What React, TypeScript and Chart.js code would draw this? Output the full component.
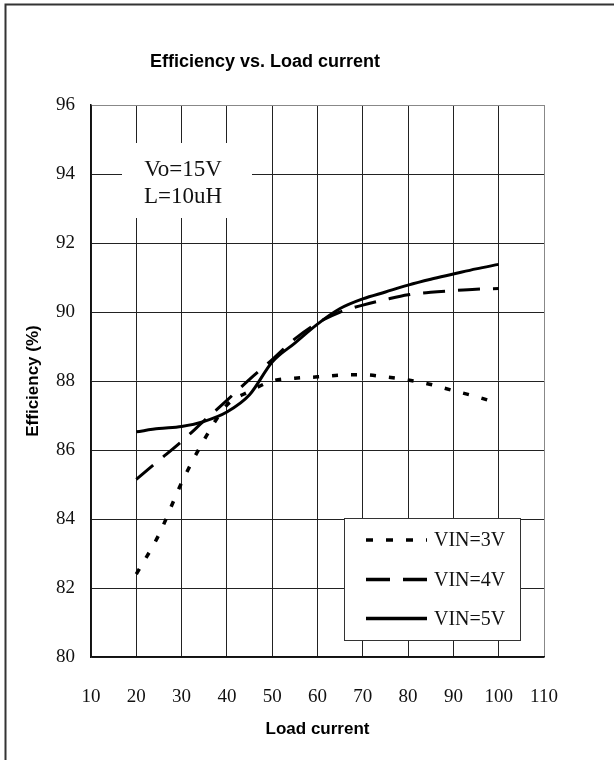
import React, { useEffect, useRef } from 'react';
import { Chart, registerables } from 'chart.js';

Chart.register(...registerables);

// ---- data ----
const loadCurrent = [20, 25, 30, 35, 40, 45, 50, 55, 60, 65, 70, 75, 80, 85, 90, 95, 100];
const eff3V = [82.4, 83.55, 85.05, 86.3, 87.3, 87.7, 88.0, 88.08, 88.12, 88.17, 88.18, 88.12, 88.03, 87.9, 87.72, 87.55, 87.35];
const eff4V = [85.15, 85.7, 86.25, 86.85, 87.44, 88.05, 88.62, 89.22, 89.68, 90.0, 90.2, 90.36, 90.5, 90.57, 90.62, 90.66, 90.68];
const eff5V = [86.53, 86.62, 86.68, 86.83, 87.1, 87.6, 88.55, 89.1, 89.65, 90.1, 90.38, 90.58, 90.78, 90.95, 91.1, 91.25, 91.38];
const seriesLabels = ['VIN=3V', 'VIN=4V', 'VIN=5V'];
const xMin = 10;
const xMax = 110;
const xStep = 10;
const yMin = 80;
const yMax = 96;
const yStep = 2;
const chartTitle = 'Efficiency vs. Load current';
const xTitle = 'Load current';
const yTitle = 'Efficiency (%)';
const noteLines = ['Vo=15V', 'L=10uH'];

const SERIF = '"Liberation Serif", "Times New Roman", serif';
const SANS = '"Liberation Sans", Arial, sans-serif';

const toPoints = (ys: number[]) => loadCurrent.map((x, i) => ({ x, y: ys[i] }));

const framePlugin = {
  id: 'frameTitle',
  beforeDraw(chart: any) {
    const { ctx } = chart;
    ctx.save();
    ctx.strokeStyle = '#333';
    ctx.lineWidth = 2;
    ctx.beginPath();
    ctx.moveTo(5.5, 900);
    ctx.lineTo(5.5, 4.5);
    ctx.lineTo(900, 4.5);
    ctx.stroke();
    ctx.font = 'bold 18px ' + SANS;
    ctx.fillStyle = '#000';
    ctx.textAlign = 'center';
    ctx.textBaseline = 'middle';
    ctx.fillText(chartTitle, 265, 62);
    ctx.restore();
  },
};

const notePlugin = {
  id: 'note',
  beforeDatasetsDraw(chart: any) {
    const { ctx } = chart;
    ctx.save();
    ctx.fillStyle = '#fff';
    ctx.fillRect(122, 143, 130, 75);
    ctx.font = '23px ' + SERIF;
    ctx.fillStyle = '#111';
    ctx.textAlign = 'center';
    ctx.textBaseline = 'middle';
    ctx.fillText(noteLines[0], 183, 170);
    ctx.fillText(noteLines[1], 183, 197);
    ctx.restore();
  },
};

const legendPlugin = {
  id: 'innerLegend',
  afterDatasetsDraw(chart: any) {
    const { ctx } = chart;
    ctx.save();
    ctx.fillStyle = '#fff';
    ctx.fillRect(344, 518, 177, 123);
    ctx.strokeStyle = '#333';
    ctx.lineWidth = 1;
    ctx.strokeRect(344.5, 518.5, 176, 122);
    const rows = [540, 579.5, 618.5];
    chart.data.datasets.forEach((ds: any, i: number) => {
      const y = rows[i];
      ctx.save();
      ctx.strokeStyle = ds.borderColor;
      ctx.lineWidth = 3.5;
      ctx.setLineDash(ds.legendDash || ds.borderDash || []);
      ctx.beginPath();
      ctx.moveTo(366, y);
      ctx.lineTo(427, y);
      ctx.stroke();
      ctx.restore();
      ctx.font = '20px ' + SERIF;
      ctx.fillStyle = '#111';
      ctx.textAlign = 'left';
      ctx.textBaseline = 'middle';
      ctx.fillText(ds.label, 434, y + 1);
    });
    ctx.restore();
  },
};

export default function App() {
  const ref = useRef<HTMLCanvasElement | null>(null);

  useEffect(() => {
    if (!ref.current) return;
    const chart = new Chart(ref.current, {
      type: 'line',
      data: {
        datasets: [
          {
            label: seriesLabels[0],
            data: toPoints(eff3V),
            borderColor: '#000',
            borderWidth: 3.5,
            borderDash: [6, 13],
            legendDash: [7, 13],
            pointRadius: 0,
            cubicInterpolationMode: 'monotone',
            fill: false,
          } as any,
          {
            label: seriesLabels[1],
            data: toPoints(eff4V),
            borderColor: '#000',
            borderWidth: 3,
            borderDash: [22, 13],
            legendDash: [24, 13],
            pointRadius: 0,
            cubicInterpolationMode: 'monotone',
            fill: false,
          } as any,
          {
            label: seriesLabels[2],
            data: toPoints(eff5V),
            borderColor: '#000',
            borderWidth: 3,
            pointRadius: 0,
            cubicInterpolationMode: 'monotone',
            fill: false,
          } as any,
        ],
      },
      options: {
        responsive: false,
        animation: false,
        events: [],
        layout: { padding: { top: 105, right: 70, bottom: 0, left: 0 } },
        plugins: {
          legend: { display: false },
          title: { display: false },
          tooltip: { enabled: false },
        },
        scales: {
          x: {
            type: 'linear',
            min: xMin,
            max: xMax,
            ticks: {
              stepSize: xStep,
              padding: 29,
              color: '#111',
              font: { family: SERIF, size: 19 },
            },
            grid: {
              color: (c: any) => (c.tick && c.tick.value === xMax ? '#888' : '#222'),
              lineWidth: 1,
              drawTicks: false,
            },
            border: { color: '#111', width: 1.5 },
            title: {
              display: true,
              text: xTitle,
              color: '#000',
              font: { family: SANS, size: 17, weight: 'bold' },
              padding: { top: 0, bottom: 20 },
            },
            afterFit: (s: any) => {
              s.height = 103;
            },
          },
          y: {
            type: 'linear',
            min: yMin,
            max: yMax,
            ticks: {
              stepSize: yStep,
              padding: 16,
              color: '#111',
              font: { family: SERIF, size: 19 },
            },
            grid: {
              color: (c: any) => (c.tick && c.tick.value === yMax ? '#888' : '#222'),
              lineWidth: 1,
              drawTicks: false,
            },
            border: { color: '#111', width: 1.5 },
            title: {
              display: true,
              text: yTitle,
              color: '#000',
              font: { family: SANS, size: 17, weight: 'bold' },
              padding: { top: 23, bottom: 0 },
            },
            afterFit: (s: any) => {
              s.width = 91;
            },
          },
        },
      } as any,
      plugins: [framePlugin, notePlugin, legendPlugin],
    });
    return () => chart.destroy();
  }, []);

  return (
    <div style={{ position: 'absolute', left: 0, top: 0, width: 614, height: 760, background: '#fff' }}>
      <canvas ref={ref} width={614} height={760} style={{ display: 'block' }} />
    </div>
  );
}
